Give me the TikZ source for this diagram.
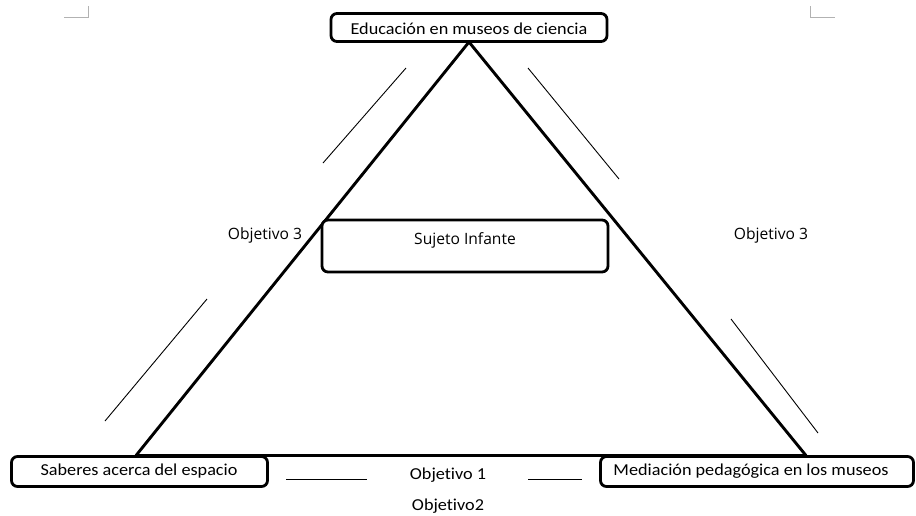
\documentclass[tikz,border=0pt]{standalone}
\usepackage{fontspec}
\setmainfont[RawFeature={-liga}]{Carlito}
\newfontfamily\osans{Open Sans}
\newcommand\wtxt[1]{\scalebox{1.09}[1]{#1}}
\begin{document}
\begin{tikzpicture}[x=1pt,y=-1pt,
  rbox/.style={draw=black, line width=2.8pt, rounded corners=6pt, fill=white, inner sep=0pt},
  cal/.style={font=\fontsize{16.7}{20}\selectfont},
  ops/.style={font=\osans\fontsize{15.6}{18}\selectfont},
  thick edge/.style={line width=2.9pt},
  thin line/.style={line width=0.9pt},
  cornermark/.style={line width=0.7pt, draw=gray!60}]
\useasboundingbox (0,0) rectangle (916,515);
% corner marks
\coordinate (m1a) at (64,17); \coordinate (m1b) at (88.5,17); \coordinate (m1c) at (88.5,6);
\coordinate (m2a) at (810,6); \coordinate (m2b) at (810,17); \coordinate (m2c) at (835,17);
\draw[cornermark] (m1a) -- (m1b) -- (m1c);
\draw[cornermark] (m2a) -- (m2b) -- (m2c);
% triangle
\coordinate (apex) at (469,42);
\coordinate (bl) at (136,455.5);
\coordinate (br) at (806,455.5);
\draw[thick edge, line join=miter] (bl) -- (apex) -- (br);
\draw[thick edge] (bl) -- (br);
% boxes
\node[rbox, minimum width=276pt, minimum height=28pt] (top) at (469,27.5) {};
\node[cal] (toptext) at (469,29) {\wtxt{Educación en museos de ciencia}};
\node[rbox, minimum width=286pt, minimum height=52pt] (mid) at (465,246) {};
\node[ops] (midtext) at (465,240) {Sujeto Infante};
\node[rbox, minimum width=256pt, minimum height=30pt] (left) at (139.5,471.5) {};
\node[cal] (lefttext) at (139,471) {\wtxt{Saberes acerca del espacio}};
\node[rbox, minimum width=313pt, minimum height=30pt] (right) at (757,471.5) {};
\node[cal] (righttext) at (751,471.5) {\wtxt{Mediación pedagógica en los museos}};
% labels
\node[ops] (o3l) at (265,235) {Objetivo 3};
\node[ops] (o3r) at (771,235) {Objetivo 3};
\node[cal] (o1) at (448,475) {\wtxt{Objetivo 1}};
\node[cal] (o2) at (448,506) {\wtxt{Objetivo2}};
% thin lines
\coordinate (a1) at (323,163); \coordinate (a2) at (406,68);
\coordinate (b1) at (105,421); \coordinate (b2) at (207,299);
\coordinate (c1) at (528,68); \coordinate (c2) at (619,179);
\coordinate (d1) at (731,319); \coordinate (d2) at (818,433);
\coordinate (e1) at (286,479); \coordinate (e2) at (367,479);
\coordinate (f1) at (528,479); \coordinate (f2) at (582,479);
\draw[thin line] (a1) -- (a2);
\draw[thin line] (b1) -- (b2);
\draw[thin line] (c1) -- (c2);
\draw[thin line] (d1) -- (d2);
\draw[thin line] (e1) -- (e2);
\draw[thin line] (f1) -- (f2);
\end{tikzpicture}
\end{document}
